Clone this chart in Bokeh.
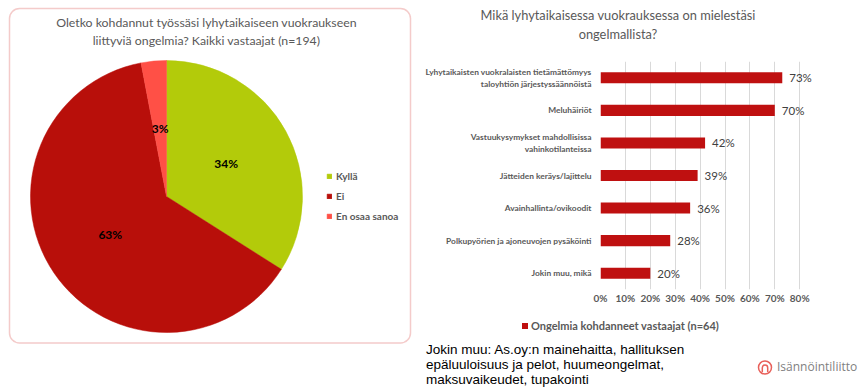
import numpy as np
from bokeh.plotting import figure
from bokeh.models import (Range1d, FactorRange, Legend, LegendItem, BoxAnnotation,
                          NumeralTickFormatter, FixedTicker, ColumnDataSource, Div)
from bokeh.layouts import row, column
from bokeh.embed import file_html
from bokeh.resources import INLINE
from bokeh.core.properties import value

# ---------------- data ----------------
pie_title = ["Oletko kohdannut työssäsi lyhytaikaiseen vuokraukseen",
             "liittyviä ongelmia? Kaikki vastaajat (n=194)"]
pie_labels = ["Kyllä", "Ei", "En osaa sanoa"]
pie_values = [34, 63, 3]
pie_colors = ["#B3CB0A", "#B80F0A", "#FF5046"]

bar_title = ["Mikä lyhytaikaisessa vuokrauksessa on mielestäsi", "ongelmallista?"]
bar_categories = ["Lyhytaikaisten vuokralaisten tietämättömyys\ntaloyhtiön järjestyssäännöistä",
                  "Meluhäiriöt",
                  "Vastuukysymykset mahdollisissa\nvahinkotilanteissa",
                  "Jätteiden keräys/lajittelu",
                  "Avainhallinta/ovikoodit",
                  "Polkupyörien ja ajoneuvojen pysäköinti",
                  "Jokin muu, mikä"]
bar_values = [0.73, 0.70, 0.42, 0.39, 0.36, 0.28, 0.20]
bar_series = "Ongelmia kohdanneet vastaajat (n=64)"
bar_color = "#BF1010"
x_ticks = [0.0, 0.1, 0.2, 0.3, 0.4, 0.5, 0.6, 0.7, 0.8]

footnote = ["Jokin muu: As.oy:n mainehaitta, hallituksen",
            "epäluuloisuus ja pelot, huumeongelmat,",
            "maksuvaikeudet, tupakointi"]
logo_text = "Isännöintiliitto"

GRAY = "#595959"
FONT = value("Lato")
W, H = 865, 389

# ---------------- left: pie ----------------
LW = 418
left = figure(width=LW, height=H, x_range=Range1d(0, LW), y_range=Range1d(0, H),
              x_axis_type=None, y_axis_type=None, output_backend="svg",
              toolbar_location=None, min_border=0)
left.grid.visible = False
left.outline_line_color = None

left.add_layout(BoxAnnotation(left=9, right=410, bottom=H - 342.5, top=H - 8, fill_alpha=0,
                              line_color="#D9534F", line_width=1.5, border_radius=10))

left.text(x=[206, 206], y=[H - 22, H - 40], text=pie_title, text_align="center",
          text_baseline="middle", text_font=FONT, text_font_size="12.3px", text_color=GRAY)

vals = np.array(pie_values, dtype=float)
frac = vals / vals.sum()
cum = np.cumsum(frac)
before = cum - frac
start = np.pi / 2 - 2 * np.pi * before
end = np.pi / 2 - 2 * np.pi * cum
mid = (start + end) / 2
cx, cy, R = 166, H - 196, 136
psrc = ColumnDataSource(dict(label=pie_labels, start=start, end=end, color=pie_colors,
                             lx=cx + 0.5 * R * np.cos(mid), ly=cy + 0.5 * R * np.sin(mid),
                             txt=[f"{v}%" for v in pie_values]))
wr = left.wedge(x=cx, y=cy, radius=R, start_angle="start", end_angle="end",
                direction="clock", fill_color="color", line_color="color",
                line_width=0.5, source=psrc)
left.text(x="lx", y="ly", text="txt", source=psrc, text_align="center",
          text_baseline="middle", text_font=FONT, text_font_size="12px",
          text_font_style="bold", text_color="black")

pleg = Legend(items=[LegendItem(label=l, renderers=[wr], index=i) for i, l in enumerate(pie_labels)],
              location=(326, 166), orientation="vertical", padding=0, margin=0,
              spacing=6, glyph_width=6, glyph_height=6, label_height=14,
              label_standoff=4, border_line_color=None, background_fill_alpha=0,
              label_text_font="Lato", label_text_font_size="10px",
              label_text_font_style="bold", label_text_color=GRAY)
left.add_layout(pleg)

# ---------------- right: title (div) ----------------
RW = W - LW
TH = 61
title_html = (
    f'<div style="position:relative;width:{RW}px;height:{TH}px;">'
    f'<div style="position:absolute;left:0px;top:6px;width:400px;text-align:center;'
    f'font-family:Lato;font-size:12.8px;line-height:19px;color:{GRAY};">'
    + "<br>".join(bar_title) + "</div></div>")
rtitle = Div(text=title_html, width=RW, height=TH, margin=0)

# ---------------- right: bars ----------------
BH = 255
bar = figure(width=RW, height=BH, x_range=Range1d(0, 218 / 249),
             y_range=FactorRange(factors=bar_categories[::-1]),
             output_backend="svg", toolbar_location=None,
             min_border_left=182, min_border_right=47, min_border_top=0, min_border_bottom=27)
bar.outline_line_color = None
bsrc = ColumnDataSource(dict(cat=bar_categories, val=bar_values,
                             txt=[f"{round(v * 100)}%" for v in bar_values]))
br = bar.hbar(y="cat", right="val", left=0, height=0.34, fill_color=bar_color,
              line_color=None, source=bsrc)
bar.text(x="val", y="cat", text="txt", source=bsrc, x_offset=7, text_baseline="middle",
         text_font=FONT, text_font_size="11.5px", text_color="#404040")

bar.xaxis.ticker = FixedTicker(ticks=x_ticks)
bar.xaxis.formatter = NumeralTickFormatter(format="0%")
bar.xaxis.axis_line_color = None
bar.xaxis.major_tick_line_color = None
bar.xaxis.minor_tick_line_color = None
bar.xaxis.major_tick_out = 0
bar.xaxis.major_label_standoff = 2
bar.xaxis.major_label_text_font = "Lato"
bar.xaxis.major_label_text_font_size = "10px"
bar.xaxis.major_label_text_font_style = "bold"
bar.xaxis.major_label_text_color = GRAY

bar.yaxis.axis_line_color = None
bar.yaxis.major_tick_line_color = None
bar.yaxis.minor_tick_line_color = None
bar.yaxis.major_label_standoff = 3
bar.yaxis.major_label_text_font = "Lato"
bar.yaxis.major_label_text_font_size = "8.4px"
bar.yaxis.major_label_text_font_style = "bold"
bar.yaxis.major_label_text_color = GRAY

bar.xgrid.grid_line_color = "#D9D9D9"
bar.ygrid.grid_line_color = None

# ---------------- right: legend + footnote + logo (div) ----------------
FH = H - TH - BH
logo_svg = ('<svg width="16" height="15" style="position:absolute;left:339px;top:44px;">'
            '<circle cx="8" cy="7.5" r="6.5" fill="none" stroke="#E8605A" stroke-width="1.5"/>'
            '<path d="M5.3 12 V7.8 A2.7 2.7 0 0 1 10.7 7.8 V12" fill="none" stroke="#E8605A" '
            'stroke-width="1.5"/></svg>')
legend_html = (
    f'<div style="position:absolute;left:104px;top:7px;width:6px;height:6px;'
    f'background:{bar_color};"></div>'
    f'<div style="position:absolute;left:113px;top:3px;white-space:nowrap;font-family:Lato;'
    f'font-weight:bold;font-size:11px;line-height:13px;color:{GRAY};">{bar_series}</div>')
foot_html = (
    f'<div style="position:relative;width:{RW}px;height:{FH}px;">'
    + legend_html
    + f'<div style="position:absolute;left:8px;top:26px;white-space:nowrap;'
      f'font-family:\'Liberation Sans\';font-size:13.5px;line-height:15px;color:black;">'
    + "<br>".join(footnote) + "</div>"
    + logo_svg
    + f'<div style="position:absolute;left:359px;top:43px;white-space:nowrap;'
      f'font-family:\'Open Sans\';font-size:12px;line-height:16px;color:#7F7F7F;">'
    + logo_text + "</div></div>")
foot = Div(text=foot_html, width=RW, height=FH, margin=0)

layout = row(left, column(rtitle, bar, foot))
open("out.html", "w").write(file_html(layout, INLINE))
